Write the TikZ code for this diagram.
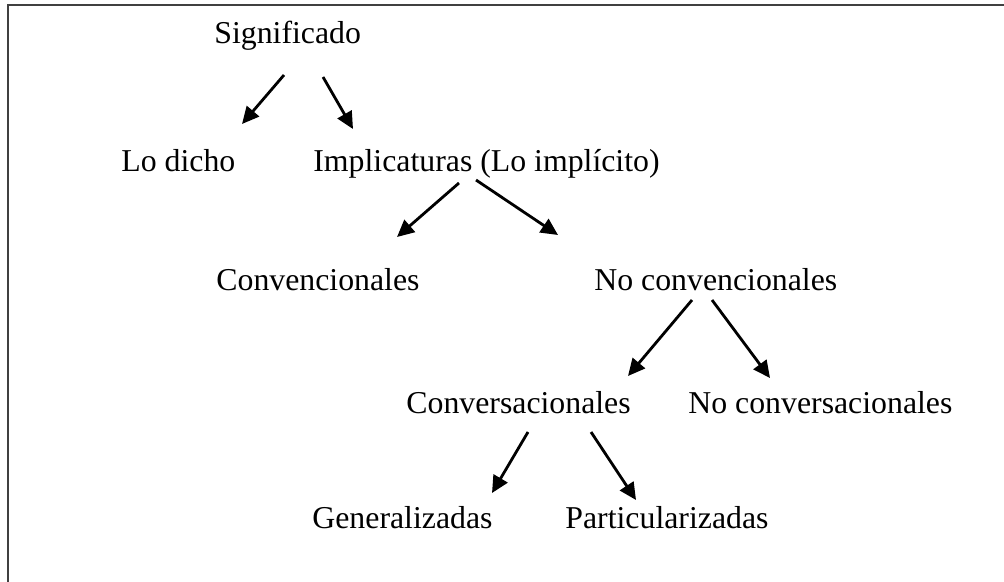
\documentclass[tikz,border=0pt]{standalone}
\usepackage{fontspec}
\setmainfont{Liberation Serif}
\usetikzlibrary{arrows.meta}
\newcommand{\lbl}{\fontsize{15.9}{18}\selectfont}
\tikzset{
  frame/.style={draw=black!75,line width=1pt},
  arr/.style={-{Triangle[length=8.5pt,width=8pt]},line width=1.4pt}
}
\begin{document}
\begin{tikzpicture}[x=0.5pt,y=-0.5pt,every node/.style={anchor=base west,inner sep=0pt,font=\lbl}]
      \useasboundingbox (0,0) rectangle (1004,582);
      \draw[frame] (7.5,582) -- (7.5,5.5) -- (1004,5.5);
      \draw
        (214,44) node (sig){Significado}
        (121,172) node (dicho){Lo dicho}
        (313,172) node (impl){Implicaturas (Lo implícito)}
        (216,290) node (conv){Convencionales}
        (594,290) node (noconv){No convencionales}
        (406,413) node (convs){Conversacionales}
        (688,413) node (noconvs){No conversacionales}
        (312,528) node (gen){Generalizadas}
        (565,528) node (part){Particularizadas};
      \begin{scope}[arr]
        \draw ([shift={(70,31)}]sig.base west) to ([shift={(121,-48)}]dicho.base west);
        \draw ([shift={(109,33)}]sig.base west) to ([shift={(40,-43)}]impl.base west);
        \draw ([shift={(146,11)}]impl.base west) to ([shift={(181,-53)}]conv.base west);
        \draw ([shift={(163,8)}]impl.base west) to ([shift={(-36,-55)}]noconv.base west);
        \draw ([shift={(98,10)}]noconv.base west) to ([shift={(222,-37)}]convs.base west);
        \draw ([shift={(118,10)}]noconv.base west) to ([shift={(82,-35)}]noconvs.base west);
        \draw ([shift={(122,19)}]convs.base west) to ([shift={(180,-35)}]gen.base west);
        \draw ([shift={(185,19)}]convs.base west) to ([shift={(71,-28)}]part.base west);
      \end{scope}
    \end{tikzpicture}
\end{document}
